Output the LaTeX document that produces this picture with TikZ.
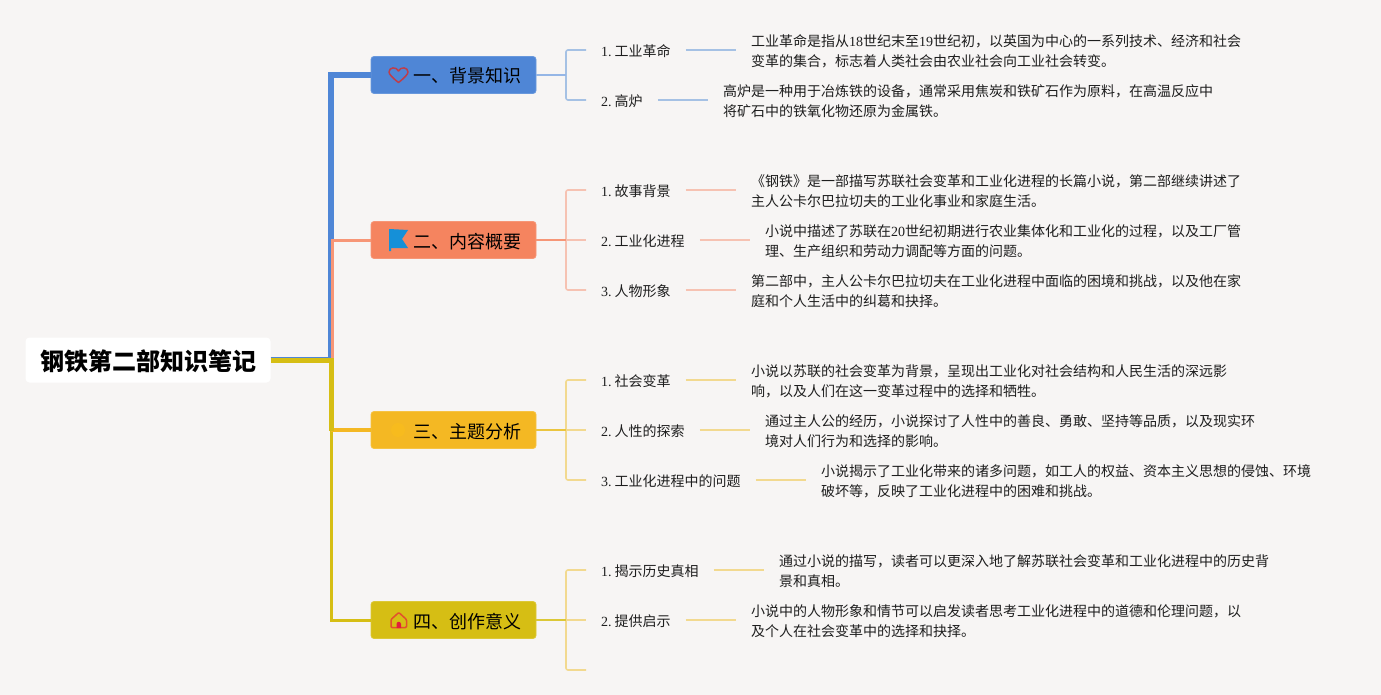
\documentclass[tikz,border=0pt]{standalone}
\usepackage{fontspec}
\usepackage{xcolor}
\setmainfont{Liberation Serif}
\newfontfamily\cjk{Noto Sans CJK SC}
\newcommand{\lat}[1]{{\rmfamily #1}}
\newcommand{\itemno}[1]{{\rmfamily #1.\kern3pt}}
\definecolor{bgcol}{HTML}{F7F5F4}
\definecolor{bluecol}{HTML}{4F86D6}
\definecolor{orangecol}{HTML}{F5845F}
\definecolor{ambercol}{HTML}{F4B823}
\definecolor{olivecol}{HTML}{D6BE14}
\definecolor{bluelite}{HTML}{A5C1E4}
\definecolor{orangelite}{HTML}{F6C2B2}
\definecolor{yellowlite}{HTML}{F2D98F}
\definecolor{textcol}{HTML}{1E1E1E}
\tikzset{
	rootbox/.style={fill=white,rounded corners=4pt,minimum width=245pt,minimum height=45pt,inner sep=0pt,text height=24pt,text depth=2.8pt,font=\fontsize{24}{28}\selectfont\cjk\bfseries},
	topicbox/.style={draw=#1!85!white,fill=#1,line width=0.8pt,rounded corners=3pt,minimum width=165pt,minimum height=37pt,inner xsep=15pt,inner ysep=0pt,text width=135pt,align=right,text height=19pt,text depth=3pt,font=\fontsize{18}{22}\selectfont\cjk},
	itembox/.style={anchor=west,inner xsep=15pt,inner ysep=0pt,text=textcol,text height=14pt,text depth=1.4pt,font=\fontsize{14}{20}\selectfont\cjk},
	detailbox/.style={anchor=west,inner xsep=15pt,inner ysep=0pt,align=left,text=textcol,font=\fontsize{14}{20}\selectfont\cjk},
	branch/.style={line width=1.6pt,color=#1,rounded corners=2pt},
	stem/.style={line width=1.8pt,color=#1},
}
\begin{document}
\begin{tikzpicture}[x=1pt,y=-1pt]
	\fill[bgcol] (0,0) rectangle (1381,695);
	\useasboundingbox (0,0) rectangle (1381,695);

	\node[rootbox] (root) at (148,360) {钢铁第二部知识笔记};
	\node[topicbox=bluecol] (bg) at (453.5,75) {一、背景知识};
	\node[topicbox=orangecol] (gist) at (453.5,240) {二、内容概要};
	\node[topicbox=ambercol] (theme) at (453.5,430) {三、主题分析};
	\node[topicbox=olivecol] (sense) at (453.5,620) {四、创作意义};

	\node[itembox] (bga) at (586,50) {\itemno{1}工业革命};
	\node[itembox] (bgb) at (586,100) {\itemno{2}高炉};
	\node[itembox] (gista) at (586,190) {\itemno{1}故事背景};
	\node[itembox] (gistb) at (586,240) {\itemno{2}工业化进程};
	\node[itembox] (gistc) at (586,290) {\itemno{3}人物形象};
	\node[itembox] (themea) at (586,380) {\itemno{1}社会变革};
	\node[itembox] (themeb) at (586,430) {\itemno{2}人性的探索};
	\node[itembox] (themec) at (586,480) {\itemno{3}工业化进程中的问题};
	\node[itembox] (sensea) at (586,570) {\itemno{1}揭示历史真相};
	\node[itembox] (senseb) at (586,620) {\itemno{2}提供启示};
	\coordinate (sensec) at (586,670);
	\coordinate (bgfork) at (566,75);
	\coordinate (gistfork) at (566,240);
	\coordinate (themefork) at (566,430);
	\coordinate (sensefork) at (566,620);

	\node[detailbox] (bgatext) at (736,51) {工业革命是指从\lat{18}世纪末至\lat{19}世纪初，以英国为中心的一系列技术、经济和社会\\变革的集合，标志着人类社会由农业社会向工业社会转变。};
	\node[detailbox] (bgbtext) at (708,101) {高炉是一种用于冶炼铁的设备，通常采用焦炭和铁矿石作为原料，在高温反应中\\将矿石中的铁氧化物还原为金属铁。};
	\node[detailbox] (gistatext) at (736,191) {《钢铁》是一部描写苏联社会变革和工业化进程的长篇小说，第二部继续讲述了\\主人公卡尔巴拉切夫的工业化事业和家庭生活。};
	\node[detailbox] (gistbtext) at (750,241) {小说中描述了苏联在\lat{20}世纪初期进行农业集体化和工业化的过程，以及工厂管\\理、生产组织和劳动力调配等方面的问题。};
	\node[detailbox] (gistctext) at (736,291) {第二部中，主人公卡尔巴拉切夫在工业化进程中面临的困境和挑战，以及他在家\\庭和个人生活中的纠葛和抉择。};
	\node[detailbox] (themeatext) at (736,381) {小说以苏联的社会变革为背景，呈现出工业化对社会结构和人民生活的深远影\\响，以及人们在这一变革过程中的选择和牺牲。};
	\node[detailbox] (themebtext) at (750,431) {通过主人公的经历，小说探讨了人性中的善良、勇敢、坚持等品质，以及现实环\\境对人们行为和选择的影响。};
	\node[detailbox] (themectext) at (806,481) {小说揭示了工业化带来的诸多问题，如工人的权益、资本主义思想的侵蚀、环境\\破坏等，反映了工业化进程中的困难和挑战。};
	\node[detailbox] (senseatext) at (764,571) {通过小说的描写，读者可以更深入地了解苏联社会变革和工业化进程中的历史背\\景和真相。};
	\node[detailbox] (sensebtext) at (736,621) {小说中的人物形象和情节可以启发读者思考工业化进程中的道德和伦理问题，以\\及个人在社会变革中的选择和抉择。};

	\draw[line width=5.5pt,bluecol] (root.east) -- (331,360) |- (bg.west);
	\draw[line width=3pt,orangecol!85!white] (root.east) -- (332,360) |- (gist.west);
	\draw[line width=3pt,olivecol] (331.5,430) |- (sense.west);
	\draw[line width=4.5pt,ambercol] (331,430) -- (theme.west);
	\draw[line width=5pt,olivecol] (root.east) -- (331,360) -- (331,431);

	\draw[branch=bluelite] (bgfork) |- (bga.west);
	\draw[branch=bluelite] (bgfork) |- (bgb.west);
	\draw[stem=bluecol!60!white] (bg.east) -- (bgfork);
	\draw[branch=bluelite] (bga.east) -- (bga.east -| bgatext.west);
	\draw[branch=bluelite] (bgb.east) -- (bgb.east -| bgbtext.west);

	\draw[branch=orangelite] (gistfork) |- (gista.west);
	\draw[branch=orangelite] (gistfork) |- (gistc.west);
	\draw[branch=orangelite] (gistfork) -- (gistb.west);
	\draw[stem=orangecol!85!white] (gist.east) -- (gistfork);
	\draw[branch=orangelite] (gista.east) -- (gista.east -| gistatext.west);
	\draw[branch=orangelite] (gistb.east) -- (gistb.east -| gistbtext.west);
	\draw[branch=orangelite] (gistc.east) -- (gistc.east -| gistctext.west);

	\draw[branch=yellowlite] (themefork) |- (themea.west);
	\draw[branch=yellowlite] (themefork) |- (themec.west);
	\draw[branch=yellowlite] (themefork) -- (themeb.west);
	\draw[stem=ambercol!60!olivecol!85!white] (theme.east) -- (themefork);
	\draw[branch=yellowlite] (themea.east) -- (themea.east -| themeatext.west);
	\draw[branch=yellowlite] (themeb.east) -- (themeb.east -| themebtext.west);
	\draw[branch=yellowlite] (themec.east) -- (themec.east -| themectext.west);

	\draw[branch=yellowlite] (sensefork) |- (sensea.west);
	\draw[branch=yellowlite] (sensefork) |- (sensec);
	\draw[branch=yellowlite] (sensefork) -- (senseb.west);
	\draw[stem=olivecol!85!white] (sense.east) -- (sensefork);
	\draw[branch=yellowlite] (sensea.east) -- (sensea.east -| senseatext.west);
	\draw[branch=yellowlite] (senseb.east) -- (senseb.east -| sensebtext.west);

	% icons
	\draw[line width=1.5pt,color={rgb,255:red,190;green,62;blue,75},line join=round] (398.5,82.5) .. controls (392,77.5) and (389,74) .. (389,72) .. controls (389,67) and (396.5,66.5) .. (398.5,71) .. controls (400.5,66.5) and (408,67) .. (408,72) .. controls (408,74) and (405,77.5) .. (398.5,82.5) -- cycle;
	\fill[color={rgb,255:red,21;green,144;blue,216}] (389,229) -- (408,230) -- (402,239) -- (408,248) -- (391,248) -- (391,251) -- (389,251) -- cycle;
	\fill[color={rgb,255:red,247;green,187;blue,30}] (398,430) circle (7);
	\draw[line width=1.5pt,color={rgb,255:red,226;green,80;blue,45},line join=round,rounded corners=1pt] (391,627.5) -- (391,619.5) -- (398.8,612.5) -- (406.5,619.5) -- (406.5,627.5) -- cycle;
	\fill[color={rgb,255:red,225;green,30;blue,60}] (396.5,628) -- (396.5,624) arc[start angle=180,end angle=360,radius=2.25] -- (401,628) -- cycle;
\end{tikzpicture}
\end{document}
